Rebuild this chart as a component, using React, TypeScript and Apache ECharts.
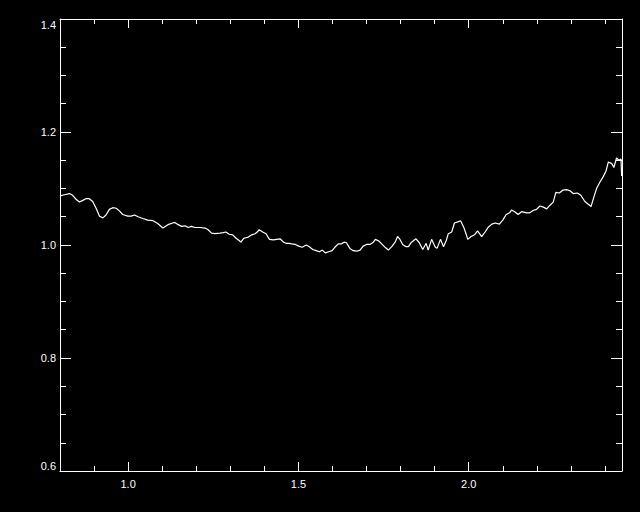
import React, { useEffect, useRef } from "react";
import * as echarts from "echarts";

// Spectrum trace (x, y)
const xValues: number[] = [
  0.800, 0.813, 0.828, 0.837, 0.847, 0.857, 0.867, 0.876, 0.886, 0.896,
  0.906, 0.916, 0.926, 0.935, 0.945, 0.955, 0.965, 0.975, 0.984, 0.999,
  1.009, 1.019, 1.029, 1.043, 1.058, 1.073, 1.087, 1.102, 1.117, 1.131,
  1.137, 1.147, 1.157, 1.167, 1.176, 1.186, 1.196, 1.211, 1.226, 1.235,
  1.245, 1.255, 1.270, 1.279, 1.287, 1.297, 1.307, 1.317, 1.326, 1.331,
  1.340, 1.353, 1.363, 1.373, 1.379, 1.385, 1.395, 1.405, 1.415, 1.426,
  1.436, 1.446, 1.456, 1.464, 1.472, 1.481, 1.491, 1.501, 1.511, 1.523,
  1.532, 1.542, 1.552, 1.562, 1.570, 1.579, 1.589, 1.599, 1.607, 1.617,
  1.626, 1.634, 1.641, 1.651, 1.661, 1.671, 1.681, 1.690, 1.700, 1.710,
  1.720, 1.726, 1.736, 1.746, 1.756, 1.764, 1.774, 1.784, 1.791, 1.797,
  1.806, 1.816, 1.823, 1.832, 1.845, 1.855, 1.865, 1.875, 1.881, 1.891,
  1.901, 1.907, 1.917, 1.926, 1.934, 1.940, 1.950, 1.958, 1.968, 1.976,
  1.985, 1.992, 1.997, 2.007, 2.017, 2.026, 2.038, 2.048, 2.058, 2.068,
  2.078, 2.090, 2.100, 2.110, 2.120, 2.126, 2.135, 2.145, 2.155, 2.170,
  2.179, 2.189, 2.199, 2.209, 2.219, 2.229, 2.238, 2.248, 2.256, 2.266,
  2.276, 2.287, 2.297, 2.307, 2.319, 2.329, 2.341, 2.351, 2.359, 2.366,
  2.376, 2.385, 2.395, 2.403, 2.410, 2.420, 2.426, 2.434, 2.441, 2.447,
  2.449,
];

const yValues: number[] = [
  1.087, 1.089, 1.091, 1.088, 1.081, 1.076, 1.079, 1.082, 1.082, 1.077,
  1.065, 1.051, 1.048, 1.053, 1.063, 1.066, 1.065, 1.060, 1.054, 1.051,
  1.051, 1.053, 1.050, 1.047, 1.044, 1.043, 1.038, 1.030, 1.036, 1.039,
  1.040, 1.036, 1.033, 1.034, 1.031, 1.033, 1.031, 1.031, 1.030, 1.027,
  1.021, 1.020, 1.021, 1.022, 1.023, 1.019, 1.018, 1.012, 1.008, 1.005,
  1.012, 1.014, 1.018, 1.020, 1.023, 1.027, 1.023, 1.020, 1.010, 1.009,
  1.010, 1.011, 1.005, 1.003, 1.003, 1.002, 1.001, 0.998, 0.996, 1.000,
  0.997, 0.992, 0.990, 0.988, 0.991, 0.986, 0.988, 0.990, 0.996, 1.002,
  1.002, 1.005, 1.004, 0.994, 0.990, 0.989, 0.991, 0.998, 1.001, 1.001,
  1.005, 1.010, 1.007, 1.001, 0.995, 0.991, 0.997, 1.005, 1.015, 1.011,
  1.001, 0.997, 0.997, 1.005, 1.011, 1.004, 0.992, 1.003, 0.991, 1.010,
  0.997, 0.994, 1.010, 0.997, 1.008, 1.020, 1.023, 1.039, 1.041, 1.043,
  1.032, 1.020, 1.010, 1.015, 1.018, 1.025, 1.015, 1.023, 1.032, 1.037,
  1.039, 1.037, 1.044, 1.054, 1.057, 1.062, 1.059, 1.054, 1.059, 1.057,
  1.057, 1.061, 1.063, 1.069, 1.067, 1.064, 1.070, 1.076, 1.093, 1.092,
  1.097, 1.098, 1.096, 1.091, 1.092, 1.088, 1.077, 1.072, 1.068, 1.082,
  1.101, 1.111, 1.121, 1.131, 1.147, 1.144, 1.137, 1.154, 1.150, 1.152,
  1.122,
];

const xMajorTicks: number[] = [1.0, 1.5, 2.0];
const xMin = 0.8;
const xMax = 2.45;
const yMin = 0.6;
const yMax = 1.4;

export default function App() {
  const ref = useRef<HTMLDivElement>(null);

  useEffect(() => {
    if (!ref.current) return;
    document.body.style.margin = "0";
    document.body.style.background = "#000";
    const chart = echarts.init(ref.current, null, { renderer: "svg" });
    const white = "#ffffff";
    const font = "'Liberation Sans', Arial, Helvetica, sans-serif";

    const minorX = (position: "top" | "bottom") => ({
      type: "value" as const,
      position,
      min: xMin,
      max: xMax,
      interval: 0.1,
      axisLine: { show: true, lineStyle: { color: white, width: 1 } },
      axisTick: { show: true, inside: true, length: 5, lineStyle: { color: white, width: 1 } },
      axisLabel: { show: false },
      splitLine: { show: false },
    });
    const majorX = (position: "top" | "bottom", labels: boolean) => ({
      type: "value" as const,
      position,
      min: xMin,
      max: xMax,
      interval: 0.1,
      axisLine: { show: false },
      axisTick: {
        show: true,
        inside: true,
        length: 9,
        customValues: xMajorTicks,
        lineStyle: { color: white, width: 1 },
      },
      axisLabel: {
        show: labels,
        customValues: xMajorTicks,
        formatter: (v: number) => v.toFixed(1),
        color: white,
        fontSize: 11,
        fontFamily: font,
        margin: 7,
      },
      splitLine: { show: false },
    });
    const yAx = (position: "left" | "right", labels: boolean) => ({
      type: "value" as const,
      position,
      min: yMin,
      max: yMax,
      interval: 0.2,
      axisLine: { show: true, lineStyle: { color: white, width: 1 } },
      axisTick: { show: true, inside: true, length: 11, lineStyle: { color: white, width: 1 } },
      minorTick: { show: true, splitNumber: 4, length: 6, lineStyle: { color: white, width: 1 } },
      axisLabel: {
        show: labels,
        formatter: (v: number) => v.toFixed(1),
        color: white,
        fontSize: 11,
        fontFamily: font,
        margin: 4,
        verticalAlignMinLabel: "bottom",
        verticalAlignMaxLabel: "top",
      },
      splitLine: { show: false },
      minorSplitLine: { show: false },
    });

    chart.setOption({
      animation: false,
      backgroundColor: "#000000",
      grid: { left: 60, right: 18, top: 19, bottom: 41, containLabel: false },
      xAxis: [minorX("bottom"), majorX("bottom", true), minorX("top"), majorX("top", false)],
      yAxis: [yAx("left", true), yAx("right", false)],
      series: [
        {
          type: "line",
          xAxisIndex: 1,
          yAxisIndex: 0,
          showSymbol: false,
          symbol: "none",
          clip: true,
          lineStyle: { color: white, width: 1.2 },
          data: xValues.map((x, i) => [x, yValues[i]]),
        },
      ],
    });
    return () => chart.dispose();
  }, []);

  return (
    <div
      ref={ref}
      style={{ position: "fixed", left: 0, top: 0, width: 640, height: 512, background: "#000" }}
    />
  );
}
